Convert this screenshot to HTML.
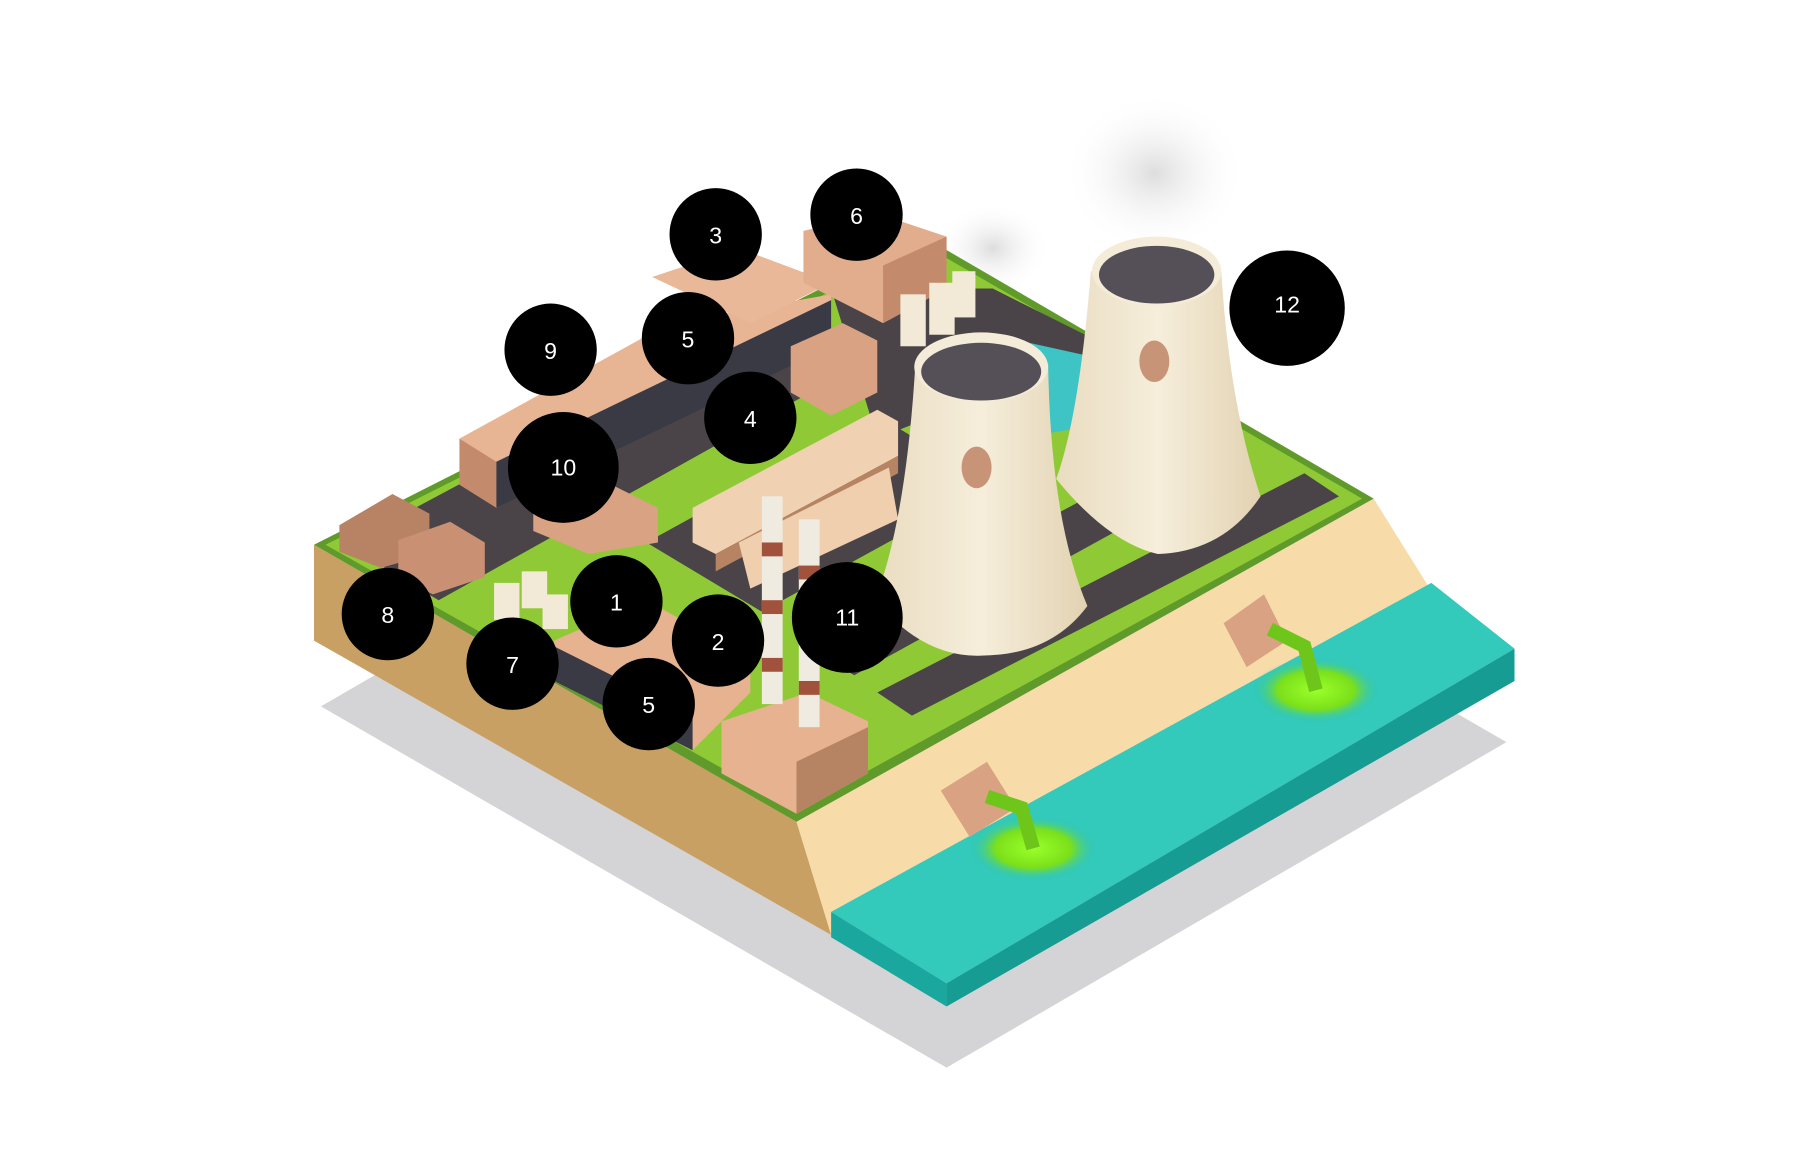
<!DOCTYPE html>
<html><head><meta charset="utf-8"><style>
html,body{margin:0;padding:0;background:#fff;width:1810px;height:1160px;overflow:hidden}
svg{display:block}
text{font-family:"Liberation Sans",sans-serif;fill:#fff;font-size:20px;text-anchor:middle;dominant-baseline:central}
</style></head><body>
<svg width="1810" height="1160" viewBox="0 0 1568 1005" preserveAspectRatio="none">
<defs>
<linearGradient id="tw" x1="0" x2="1"><stop offset="0" stop-color="#e9dcc0"/><stop offset="0.5" stop-color="#f6eedb"/><stop offset="1" stop-color="#e2d2b2"/></linearGradient>
<radialGradient id="smk"><stop offset="0" stop-color="#ddd"/><stop offset="1" stop-color="#fff" stop-opacity="0"/></radialGradient>
<radialGradient id="gl"><stop offset="0" stop-color="#9bff2a"/><stop offset="0.6" stop-color="#7be01a"/><stop offset="1" stop-color="#2ec4b6" stop-opacity="0"/></radialGradient>
</defs>
<polygon points="278,612 820,925 1305,643 765,330" fill="#d4d4d6"/>
<ellipse cx="1000" cy="150" rx="80" ry="70" fill="url(#smk)"/>
<ellipse cx="860" cy="215" rx="50" ry="40" fill="url(#smk)"/>
<polygon points="272,472 690,712 720,810 272,555" fill="#c9a063"/>
<polygon points="690,712 1190,432 1240,512 720,810" fill="#f7dcaa"/>
<polygon points="720,790 1240,505 1312,562 820,852" fill="#33c9bb"/>
<polygon points="820,852 1312,562 1312,590 820,872" fill="#169c93"/>
<polygon points="720,790 820,852 820,872 720,812" fill="#1aa89e"/>
<polygon points="272,472 800,205 1190,432 690,712" fill="#5f9a2a"/>
<polygon points="282,472 800,212 1180,432 690,702" fill="#8fca36"/>
<polygon points="300,472 640,290 720,330 380,520" fill="#4a4448"/>
<polygon points="560,470 760,360 860,420 660,530" fill="#4a4448"/>
<polygon points="700,560 1000,400 1040,420 740,585" fill="#4a4448"/>
<polygon points="760,600 1130,410 1160,430 790,620" fill="#4a4448"/>
<polygon points="720,250 860,250 960,300 760,380" fill="#4a4448"/>
<polygon points="860,290 950,310 940,370 880,380" fill="#3ec4c4"/>
<polygon points="398,380 580,280 720,255 720,290 430,440" fill="#e8b594"/>
<polygon points="398,380 430,400 430,440 398,420" fill="#c48a6c"/>
<polygon points="430,400 720,260 720,300 430,440" fill="#3a3a44"/>
<polygon points="565,240 640,215 720,245 650,280" fill="#e9b898"/>
<polygon points="696,200 760,185 820,205 820,250 765,280 696,245" fill="#e2ad8c"/>
<polygon points="765,230 820,205 820,250 765,280" fill="#c48a6c"/>
<polygon points="685,300 730,280 760,295 760,340 720,360 685,340" fill="#d9a283"/>
<rect x="780" y="255" width="22" height="45" fill="#f2ead6"/><rect x="805" y="245" width="22" height="45" fill="#f2ead6"/><rect x="825" y="235" width="20" height="40" fill="#f2ead6"/>
<polygon points="600,440 760,355 778,365 778,395 620,480 600,470" fill="#f0d2b2"/>
<polygon points="620,480 778,395 778,410 620,495" fill="#b78463"/>
<polygon points="640,470 770,405 778,450 650,510" fill="#efcfae"/>
<polygon points="462,440 520,415 570,440 570,470 510,480 462,460" fill="#d9a283"/>
<polygon points="294,455 340,428 372,445 372,480 330,492 294,478" fill="#b88365"/>
<polygon points="345,468 390,452 420,470 420,500 375,515 345,500" fill="#c99074"/>
<rect x="428" y="505" width="22" height="32" fill="#f2ead6"/><rect x="452" y="495" width="22" height="32" fill="#f2ead6"/><rect x="470" y="515" width="22" height="30" fill="#f2ead6"/>
<polygon points="480,555 560,520 650,570 650,600 600,650 480,590" fill="#e6b290"/>
<polygon points="480,560 600,620 600,650 480,590" fill="#3a3a44"/>
<polygon points="625,625 700,600 752,625 752,670 690,705 625,670" fill="#e6b290"/>
<polygon points="690,660 752,630 752,670 690,705" fill="#b78463"/>
<rect x="660" y="430" width="18" height="180" fill="#f0ebe0"/>
<rect x="660" y="470" width="18" height="12" fill="#a0523c"/><rect x="660" y="520" width="18" height="12" fill="#a0523c"/><rect x="660" y="570" width="18" height="12" fill="#a0523c"/>
<rect x="692" y="450" width="18" height="180" fill="#f0ebe0"/>
<rect x="692" y="490" width="18" height="12" fill="#a0523c"/><rect x="692" y="540" width="18" height="12" fill="#a0523c"/><rect x="692" y="590" width="18" height="12" fill="#a0523c"/>
<path d="M945,235 Q935,360 915,415 Q960,470 1003,480 Q1060,478 1092,430 Q1065,350 1058,235 Z" fill="url(#tw)"/>
<ellipse cx="1002" cy="235" rx="56" ry="30" fill="#f4ecd8"/>
<ellipse cx="1002" cy="238" rx="50" ry="25" fill="#555058"/>
<ellipse cx="1000" cy="313" rx="13" ry="18" fill="#c89478"/>
<path d="M793,315 Q785,450 758,520 Q800,570 850,568 Q910,568 942,525 Q910,450 908,315 Z" fill="url(#tw)"/>
<ellipse cx="850" cy="318" rx="58" ry="30" fill="#f4ecd8"/>
<ellipse cx="850" cy="322" rx="52" ry="25" fill="#555058"/>
<ellipse cx="846" cy="405" rx="13" ry="18" fill="#c89478"/>
<polygon points="815,685 855,660 880,700 840,725" fill="#d9a283"/>
<polygon points="1060,540 1095,515 1115,555 1080,578" fill="#d9a283"/>
<ellipse cx="895" cy="735" rx="55" ry="28" fill="url(#gl)"/>
<ellipse cx="1140" cy="598" rx="55" ry="28" fill="url(#gl)"/>
<path d="M855,690 L885,700 L895,735" stroke="#6fc61a" stroke-width="12" fill="none"/>
<path d="M1100,545 L1130,560 L1140,598" stroke="#6fc61a" stroke-width="12" fill="none"/>
<g fill="#000">
<circle cx="620" cy="203" r="40"/><circle cx="742" cy="186" r="40"/><circle cx="1115" cy="267" r="50"/>
<circle cx="477" cy="303" r="40"/><circle cx="596" cy="293" r="40"/><circle cx="650" cy="362" r="40"/>
<circle cx="488" cy="405" r="48"/><circle cx="534" cy="521" r="40"/><circle cx="622" cy="555" r="40"/>
<circle cx="734" cy="535" r="48"/><circle cx="336" cy="532" r="40"/><circle cx="444" cy="575" r="40"/>
<circle cx="562" cy="610" r="40"/>
</g>
<text x="620" y="204">3</text><text x="742" y="187">6</text><text x="1115" y="264">12</text>
<text x="477" y="304">9</text><text x="596" y="294">5</text><text x="650" y="363">4</text>
<text x="488" y="405">10</text><text x="534" y="522">1</text><text x="622" y="556">2</text>
<text x="734" y="535">11</text><text x="336" y="533">8</text><text x="444" y="576">7</text>
<text x="562" y="611">5</text>
</svg>
</body></html>
